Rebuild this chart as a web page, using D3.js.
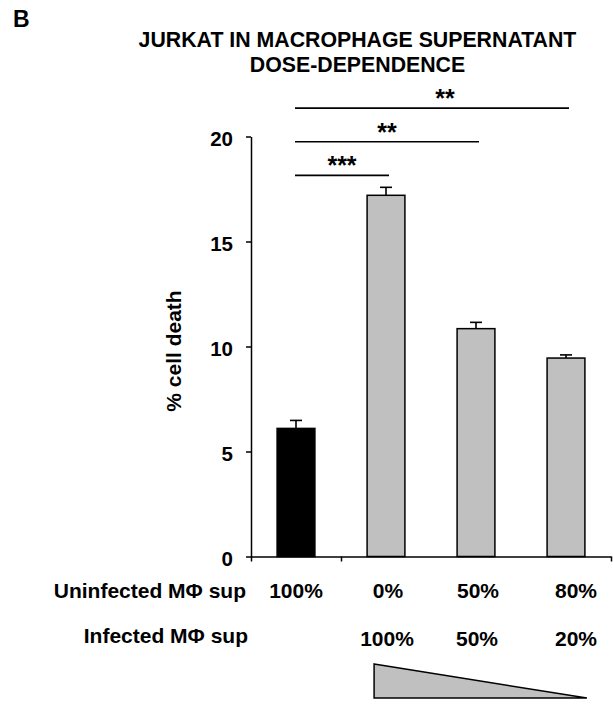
<!DOCTYPE html>
<html>
<head>
<meta charset="utf-8">
<script src="https://cdn.jsdelivr.net/npm/d3@7"></script>
<style>
body { margin: 0; background: #fff; }
text { font-family: "Liberation Sans", Arial, sans-serif; font-weight: bold; fill: #000; }
</style>
</head>
<body>
<div id="grafico"></div>
<script>
var width = 613;
var height = 705;

// dados
var condicoes = ["ctrl", "inf100", "inf50", "inf20"];
var morteCelular = [6.1, 17.2, 10.85, 9.45];
var erros = [0.38, 0.38, 0.3, 0.15];
var coresBarras = ["#000000", "#c0c0c0", "#c0c0c0", "#c0c0c0"];
var rotulosNaoInfectado = ["100%", "0%", "50%", "80%"];
var rotulosInfectado = ["", "100%", "50%", "20%"];
var ticksY = [0, 5, 10, 15, 20];

// comparações estatísticas (nível em unidades do eixo y)
var comparacoes = [
	{ de: 0, ate: 1, estrelas: "***", nivel: 18.15 },
	{ de: 0, ate: 2, estrelas: "**", nivel: 19.75 },
	{ de: 0, ate: 3, estrelas: "**", nivel: 21.35 }
];

const svg = d3.select("#grafico").append("svg")
	.attr("width", width)
	.attr("height", height);

const x = d3.scaleBand().domain(condicoes).range([251, 611]).padding(0);
const limites = d3.scaleLinear().domain([0, condicoes.length]).range([251, 611]);
const y = d3.scaleLinear().domain([0, 20]).range([556.5, 136.5]);

const larguraBarra = x.bandwidth() * 0.42;
const centro = i => x(condicoes[i]) + x.bandwidth() / 2;

// letra do painel
svg.append("text").attr("x", 13).attr("y", 27)
	.style("font-size", "23px").text("B");

// título
svg.append("text").attr("x", 357.5).attr("y", 47)
	.attr("text-anchor", "middle").style("font-size", "21.3px")
	.text("JURKAT IN MACROPHAGE SUPERNATANT");
svg.append("text").attr("x", 357.5).attr("y", 72)
	.attr("text-anchor", "middle").style("font-size", "21.3px")
	.text("DOSE-DEPENDENCE");

// barras
const dados = condicoes.map((c, i) => ({ c, v: morteCelular[i], e: erros[i], cor: coresBarras[i] }));

svg.selectAll(".erro")
	.data(dados)
	.enter().append("line")
	.attr("class", "erro")
	.attr("x1", (d, i) => centro(i)).attr("x2", (d, i) => centro(i))
	.attr("y1", d => y(d.v)).attr("y2", d => y(d.v + d.e))
	.attr("stroke", "#000").attr("stroke-width", 1.6);

svg.selectAll(".tampa")
	.data(dados)
	.enter().append("line")
	.attr("class", "tampa")
	.attr("x1", (d, i) => centro(i) - 6).attr("x2", (d, i) => centro(i) + 6)
	.attr("y1", d => y(d.v + d.e)).attr("y2", d => y(d.v + d.e))
	.attr("stroke", "#000").attr("stroke-width", 1.6);

svg.selectAll(".barra")
	.data(dados)
	.enter().append("rect")
	.attr("class", "barra")
	.attr("x", (d, i) => centro(i) - larguraBarra / 2)
	.attr("width", larguraBarra)
	.attr("y", d => y(d.v))
	.attr("height", d => y(0) - y(d.v))
	.attr("fill", d => d.cor)
	.attr("stroke", "#000")
	.attr("stroke-width", 1.5);

// eixo y
const eixoY = svg.append("g")
	.attr("transform", "translate(251,0)")
	.call(d3.axisLeft(y).tickValues(ticksY).tickSize(5).tickSizeOuter(0).tickPadding(13));
eixoY.selectAll("text").style("font-size", "20.5px").attr("dy", "0.45em");
eixoY.selectAll("path, line").attr("stroke", "#000").attr("stroke-width", 1.5);

// eixo x (só alguns ticks visíveis na figura)
const eixoX = svg.append("g")
	.attr("transform", `translate(0,${y(0)})`)
	.call(d3.axisBottom(limites).tickValues([0, 1, 4]).tickFormat("").tickSize(5).tickSizeOuter(0));
eixoX.selectAll("path, line").attr("stroke", "#000").attr("stroke-width", 1.5);

// rótulo do eixo y
svg.append("text")
	.attr("transform", "translate(181,351) rotate(-90)")
	.attr("text-anchor", "middle")
	.style("font-size", "21px")
	.text("% cell death");

// linhas de significância
comparacoes.forEach((c, k) => {
	const x1 = centro(c.de) - 1;
	const x2 = centro(c.ate) + 3;
	const meio = k === 2 ? (x1 + x2) / 2 + 13 : (x1 + x2) / 2;
	svg.append("line")
		.attr("x1", x1).attr("x2", x2)
		.attr("y1", y(c.nivel)).attr("y2", y(c.nivel))
		.attr("stroke", "#000").attr("stroke-width", 1.6);
	svg.append("text")
		.attr("x", meio).attr("y", y(c.nivel) - 1)
		.attr("text-anchor", "middle")
		.style("font-size", "25px")
		.text(c.estrelas);
});

// tabela de condições abaixo do eixo
svg.append("text").attr("x", 246).attr("y", 598)
	.attr("text-anchor", "end").style("font-size", "21px")
	.text("Uninfected M\u03A6 sup");
svg.append("text").attr("x", 248).attr("y", 643)
	.attr("text-anchor", "end").style("font-size", "21px")
	.text("Infected M\u03A6 sup");

svg.selectAll(".rotulo1")
	.data(rotulosNaoInfectado)
	.enter().append("text")
	.attr("class", "rotulo1")
	.attr("x", (d, i) => centro(i) + (i === 3 ? 10 : i === 0 ? 0 : 2))
	.attr("y", 598)
	.attr("text-anchor", "middle").style("font-size", "21px")
	.text(d => d);

svg.selectAll(".rotulo2")
	.data(rotulosInfectado)
	.enter().append("text")
	.attr("class", "rotulo2")
	.attr("x", (d, i) => centro(i) + (i === 3 ? 10 : i === 0 ? 0 : 1))
	.attr("y", 646)
	.attr("text-anchor", "middle").style("font-size", "21px")
	.text(d => d);

// triângulo de dose decrescente
const esq = centro(1) - larguraBarra / 2 + 7;
const dir = centro(3) + larguraBarra / 2 + 2;
svg.append("path")
	.attr("d", `M${esq},664 L${dir},698 L${esq},698 Z`)
	.attr("fill", "#c0c0c0")
	.attr("stroke", "#000")
	.attr("stroke-width", 1.5)
	.attr("stroke-linejoin", "miter");
</script>
</body>
</html>
